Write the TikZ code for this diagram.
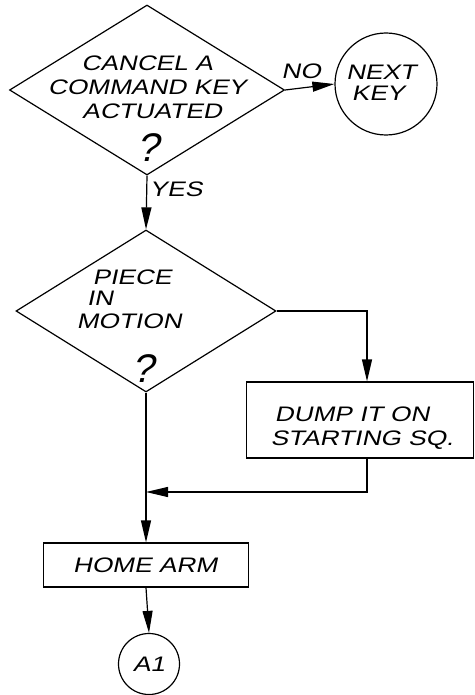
\documentclass[tikz,border=0pt]{standalone}
\usepackage{fontspec}
\newfontfamily\hand[FakeStretch=1.25,FakeSlant=0.22]{Liberation Sans}
\newfontfamily\handq[FakeSlant=0.22]{Liberation Sans}
\usetikzlibrary{arrows.meta,shapes.geometric}
\begin{document}
\begin{tikzpicture}[x=1pt,y=-1pt,
  lw/.style={line width=1.2pt},
  dec/.style={draw,lw,diamond,inner sep=0pt,aspect=1},
  proc/.style={draw,lw,rectangle,inner sep=0pt},
  conn/.style={draw,lw,circle,inner sep=0pt},
  txt/.style={font=\hand\fontsize{21}{24}\selectfont, inner sep=0pt, text height=15pt, text depth=0pt},
  qm/.style={font=\handq\fontsize{40}{40}\selectfont, inner sep=0pt, text height=29pt, text depth=0pt},
  flow/.style={lw,-{Triangle[length=22pt,width=10pt]}},
]
\useasboundingbox (0,0) rectangle (474,695);
% shapes
\node[dec,minimum width=275pt,minimum height=170pt] (d1) at (147,90) {};
\node[conn,minimum size=102pt] (nk) at (386,84) {};
\node[dec,minimum width=260pt,minimum height=162pt] (d2) at (146,311) {};
\node[proc,minimum width=227pt,minimum height=76pt] (dump) at (360,420) {};
\node[proc,minimum width=205pt,minimum height=44pt] (home) at (146,565) {};
\node[conn,minimum size=61pt] (a1) at (149,664) {};
% texts
\node[txt] (t1a) at (147,63) {CANCEL A};
\node[txt] (t1b) at (147,87) {COMMAND KEY};
\node[txt] (t1c) at (152,111) {ACTUATED};
\node[qm] (q1) at (148,147) {?};
\node[txt] (nka) at (381,72) {NEXT};
\node[txt] (nkb) at (378,93) {KEY};
\node[txt] (no) at (301,71) {NO};
\node[txt] (yes) at (176,189) {YES};
\node[txt] (t2a) at (132,277) {PIECE};
\node[txt] (t2b) at (100,298) {IN};
\node[txt] (t2c) at (129,321) {MOTION};
\node[qm] (q2) at (143,368) {?};
\node[txt] (t3a) at (352,414) {DUMP IT ON};
\node[txt] (t3b) at (362,438) {STARTING SQ.};
\node[txt] (t4) at (145,565) {HOME ARM};
\node[txt] (t5) at (149,664) {A1};
% connectors
\coordinate (j) at (146,492);
\draw[flow] (d1.east) -- (nk.west);
\draw[flow] (d1.south) -- (d2.north);
\draw[flow] (d2.east) -| ([xshift=7pt]dump.north);
\draw[flow] ([xshift=7pt]dump.south) |- (j);
\draw[flow] (d2.south) -- (home.north);
\draw[flow] (home.south) -- (a1.north);
\end{tikzpicture}
\end{document}
